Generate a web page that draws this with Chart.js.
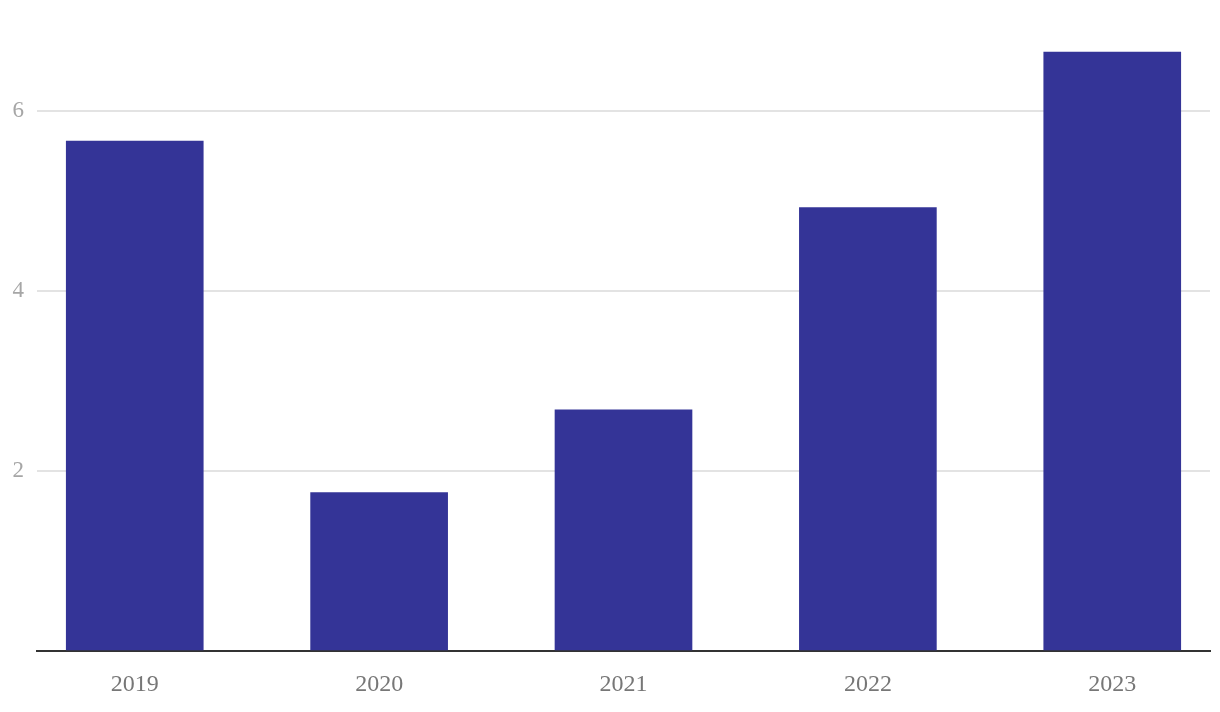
<!DOCTYPE html>
<html>
<head>
<meta charset="utf-8">
<script src="https://cdn.jsdelivr.net/npm/chart.js@4/dist/chart.umd.min.js"></script>
<style>
  html, body { margin: 0; padding: 0; background: #fff; }
  #wrap { width: 1220px; height: 712px; }
</style>
</head>
<body>
<div id="wrap"><canvas id="chart"></canvas></div>
<script>
// chart values
const years = ["2019", "2020", "2021", "2022", "2023"];
const values = [5.67, 1.76, 2.68, 4.93, 6.66];
const yTicks = [2, 4, 6];

const barColor = "#343497";

const ctx = document.getElementById("chart");
new Chart(ctx, {
    type: "bar",
    data: {
        datasets: [{
            data: values.map((v, i) => ({ x: i, y: v })),
            backgroundColor: barColor,
            barThickness: 137
        }]
    },
    options: {
        responsive: true,
        maintainAspectRatio: false,
        animation: false,
        layout: { padding: { top: 15, right: 10, left: 0, bottom: 0 } },
        plugins: { legend: { display: false }, tooltip: { enabled: false } },
        scales: {
            x: {
                type: "linear",
                min: -0.4,
                max: 4.4,
                offset: false,
                grid: { display: false, drawTicks: false },
                border: { display: true, color: "#333333", width: 2 },
                afterFit: function(scale) { scale.height = 61; },
                ticks: {
                    stepSize: 1,
                    includeBounds: false,
                    padding: 19,
                    color: "#777777",
                    font: { family: "Liberation Serif", size: 24 },
                    callback: function(value) { return years[value] || ""; }
                }
            },
            y: {
                min: 0,
                max: 6.94,
                border: { display: false },
                afterFit: function(scale) { scale.width = 37; },
                afterBuildTicks: function(scale) {
                    scale.ticks = [0].concat(yTicks).map(v => ({ value: v }));
                },
                grid: {
                    drawTicks: false,
                    lineWidth: 2,
                    color: function(c) { return c.tick && c.tick.value === 0 ? "rgba(0,0,0,0)" : "#e3e3e3"; }
                },
                ticks: {
                    padding: 13,
                    color: "#a6a6a6",
                    font: { family: "Liberation Serif", size: 23 },
                    callback: function(value) { return value === 0 ? "" : value; }
                }
            }
        }
    }
});
</script>
</body>
</html>
